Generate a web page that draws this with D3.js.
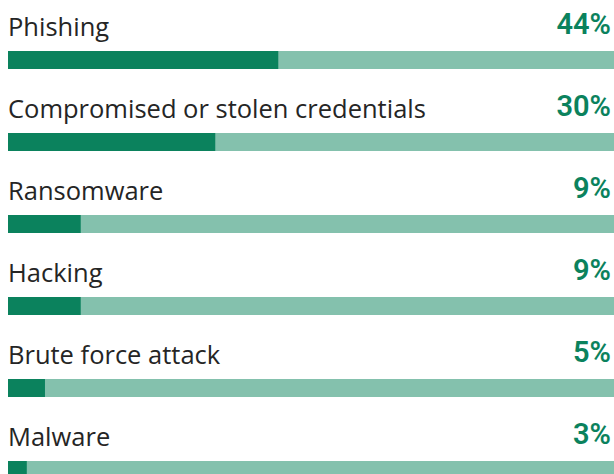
<!DOCTYPE html>
<html><head><meta charset="utf-8">
<script src="https://cdn.jsdelivr.net/npm/d3@7"></script>
<style>html,body{margin:0;padding:0;background:#fff;}</style>
</head><body><div id="chart"></div>
<script>
const categories = ["Phishing","Compromised or stolen credentials","Ransomware","Hacking","Brute force attack","Malware"];
const percentLabels = [44, 30, 9, 9, 5, 3];
// bar fill lengths as drawn in the reference (% of track)
const barFill = [44.6, 34.2, 12.0, 12.0, 6.1, 3.1];

const W = 614, H = 474;
const svg = d3.select("#chart").append("svg").attr("width", W).attr("height", H);
const x = d3.scaleLinear().domain([0, 100]).range([8, 614]);
const y = d3.scalePoint().domain(categories).range([51, 461]);
const barH = 18;
const data = categories.map((c, i) => ({c, v: percentLabels[i], f: barFill[i]}));

const g = svg.selectAll("g.row").data(data).join("g").attr("class","row");
g.append("rect").attr("x", x(0)).attr("y", d => y(d.c)).attr("width", x(100) - x(0)).attr("height", barH).attr("fill", "#84c1ad");
g.append("rect").attr("x", x(0)).attr("y", d => y(d.c)).attr("width", d => x(d.f) - x(0)).attr("height", barH).attr("fill", "#0b825d");
g.append("text").attr("x", 8).attr("y", d => y(d.c) - 15).text(d => d.c)
  .attr("font-family", "'Open Sans', sans-serif").attr("font-size", 25.5).attr("fill", "#252525");
g.append("text").attr("x", 611).attr("y", d => y(d.c) - 17).attr("text-anchor","end").text(d => d.v + "%")
  .attr("font-family", "Roboto, sans-serif").attr("font-weight", 600).attr("font-size", 29).attr("fill", "#0b825d");
</script></body></html>
